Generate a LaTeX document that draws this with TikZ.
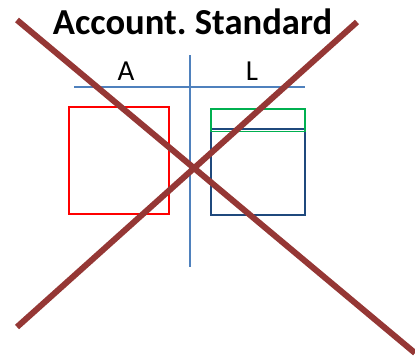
\documentclass[tikz,border=0pt]{standalone}
\usepackage{fontspec}
\setmainfont{Carlito}
\frenchspacing
\definecolor{axisblue}{HTML}{4F81BD}
\definecolor{boxgreen}{HTML}{00B050}
\definecolor{boxnavy}{HTML}{1F497D}
\definecolor{crossred}{HTML}{953735}
\begin{document}
\begin{tikzpicture}[x=1pt,y=-1pt,
  axis/.style={draw=axisblue,line width=1.5pt},
  boxline/.style={line width=1.6pt},
  crossline/.style={draw=crossred,line width=6pt}]
\useasboundingbox (0,0) rectangle (415,359);
% T-account axes
\draw[axis] (190,55) -- (190,267);
\draw[axis] (74,87) -- (305,87);
% labels
\node[font=\fontsize{29}{32}\selectfont,anchor=base] (lblA) at (126,80) {A};
\node[font=\fontsize{29}{32}\selectfont,anchor=base] (lblL) at (252,80) {L};
% boxes
\draw[boxline,draw=red] (69,107) rectangle (169,214);
\draw[boxline,draw=boxnavy] (211,129) rectangle (305,215);
\draw[boxline,draw=boxgreen] (211,109) rectangle (305,131.5);
% title
\node[font=\bfseries\fontsize{36.6}{40}\selectfont,anchor=base] (title) at (192.5,34) {Account. Standard};
% cross
\draw[crossline] (17,20) -- (415,353);
\draw[crossline] (357,22) -- (17,327);
\end{tikzpicture}
\end{document}
